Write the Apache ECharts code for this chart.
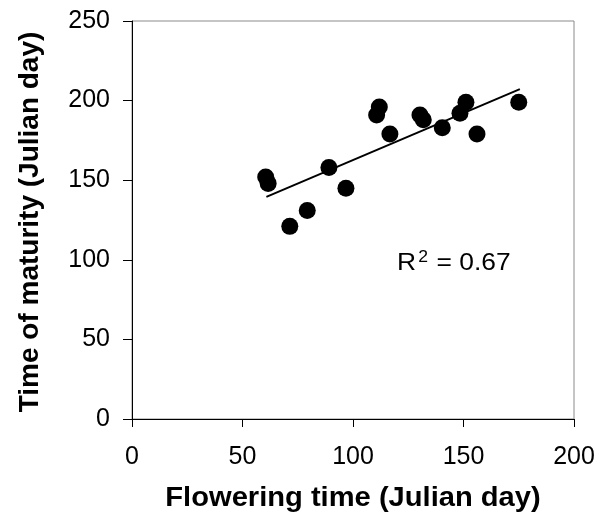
<!DOCTYPE html>
<html>
<head>
<meta charset="utf-8">
<script src="https://cdn.jsdelivr.net/npm/echarts@6/dist/echarts.min.js"></script>
<style>
html,body{margin:0;padding:0;background:#fff;}
#chart{width:602px;height:516px;}
</style>
</head>
<body>
<div id="chart"></div>
<script>
// Data
var flowering = [60.5, 61.6, 71.4, 79.3, 89.1, 96.8, 110.7, 111.9, 116.7, 130.3, 131.8, 140.4, 148.4, 151.1, 156.1, 175.0];
var maturity  = [152, 148, 121, 131, 158, 145, 191, 196, 179, 191, 188, 183, 192, 199, 179, 199];
var trendX = [60.8, 175.5];
var trendY = [139.5, 207.2];
var xTicks = [0, 50, 100, 150, 200];
var yTicks = [0, 50, 100, 150, 200, 250];
var xTitle = 'Flowering time (Julian day)';
var yTitle = 'Time of maturity (Julian day)';
var r2Text = '0.67';

var points = flowering.map(function (x, i) { return [x, maturity[i]]; });
var trend = trendX.map(function (x, i) { return [x, trendY[i]]; });

var font = '"Liberation Sans", Arial, sans-serif';
var chart = echarts.init(document.getElementById('chart'), null, {renderer: 'canvas'});
chart.setOption({
  animation: false,
  backgroundColor: '#fff',
  grid: {left: 132, right: 28, top: 21, bottom: 97, show: true, borderColor: '#8a8a8a', borderWidth: 1, backgroundColor: 'transparent'},
  xAxis: {
    type: 'value', min: xTicks[0], max: xTicks[xTicks.length - 1], interval: 50,
    axisLine: {show: true, onZero: false, lineStyle: {color: '#000', width: 1}},
    axisTick: {show: true, length: 8, lineStyle: {color: '#000'}},
    axisLabel: {color: '#000', fontSize: 25, fontFamily: font, margin: 26},
    splitLine: {show: false}
  },
  yAxis: {
    type: 'value', min: yTicks[0], max: yTicks[yTicks.length - 1], interval: 50,
    axisLine: {show: true, onZero: false, lineStyle: {color: '#000', width: 1}},
    axisTick: {show: true, length: 9, lineStyle: {color: '#000'}},
    axisLabel: {color: '#000', fontSize: 25, fontFamily: font, margin: 22},
    splitLine: {show: false}
  },
  series: [
    {
      type: 'line', data: trend, showSymbol: false, symbol: 'none',
      lineStyle: {color: '#000', width: 2}, z: 2, silent: true
    },
    {
      type: 'scatter', data: points, symbol: 'circle', symbolSize: 17,
      itemStyle: {color: '#000', opacity: 1}, z: 3
    }
  ],
  graphic: [
    {
      type: 'text', x: 353, y: 498, scaleX: 1.04,
      style: {text: xTitle, font: 'bold 28px ' + font, fill: '#000', align: 'center', verticalAlign: 'middle'}
    },
    {
      type: 'text', x: 30, y: 222, rotation: Math.PI / 2,
      style: {text: yTitle, font: 'bold 28px ' + font, fill: '#000', align: 'center', verticalAlign: 'middle'}
    },
    {
      type: 'text', x: 397, y: 247, scaleX: 1.1,
      style: {
        text: '{r|R}{s|2}{r| = ' + r2Text + '}',
        rich: {
          r: {fontSize: 24, fontFamily: font, fill: '#000', color: '#000', lineHeight: 28, verticalAlign: 'bottom'},
          s: {fontSize: 16, fontFamily: font, fill: '#000', color: '#000', lineHeight: 28, verticalAlign: 'top', padding: [3, 1, 0, 2]}
        }
      }
    }
  ]
});
</script>
</body>
</html>
